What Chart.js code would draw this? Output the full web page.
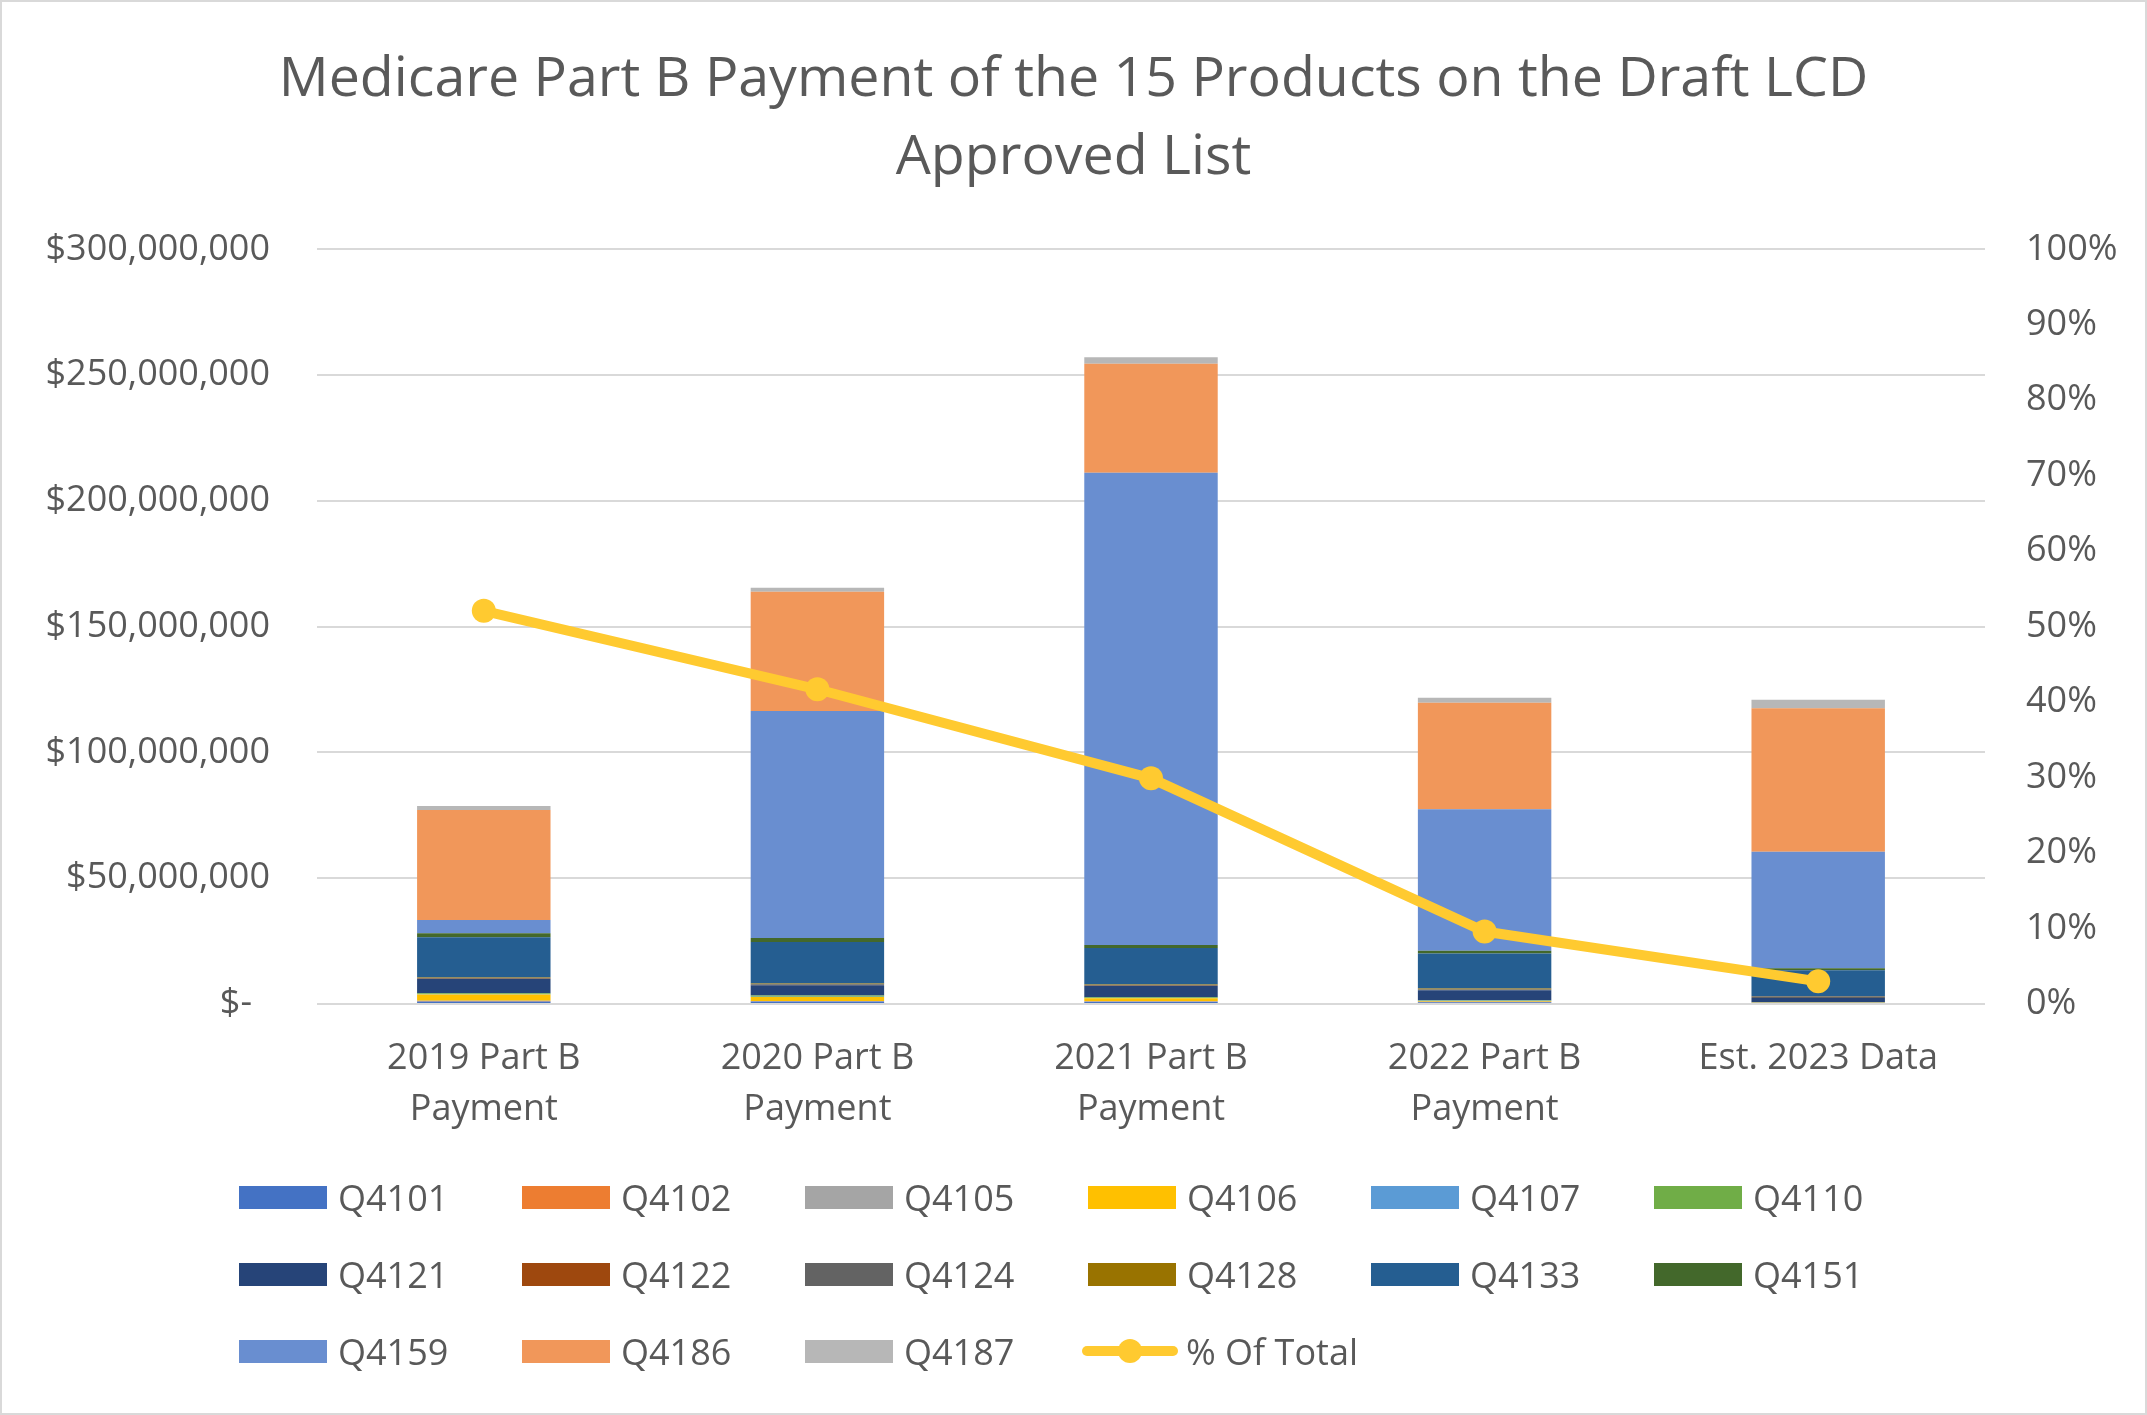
<!DOCTYPE html>
<html>
<head>
<meta charset="utf-8">
<script src="https://cdn.jsdelivr.net/npm/chart.js@4.4.1/dist/chart.umd.min.js"></script>
<style>
  body { margin: 0; background: #fff; }
  #wrap { position: relative; width: 2147px; height: 1415px; overflow: hidden; }
  #frame { position: absolute; left: 0; top: 0; width: 2143px; height: 1411px; border: 2px solid #d9d9d9; pointer-events: none; }
  #legend { position: absolute; left: 0; top: 0; width: 2147px; height: 1415px; pointer-events: none;
            font-family: 'Open Sans', sans-serif; font-size: 36px; color: #595959; }
  .item { position: absolute; height: 50px; display: flex; align-items: center; white-space: nowrap; }
  .box { width: 88px; height: 23px; margin-right: 11px; }
  .ln { position: relative; width: 96px; height: 10px; border-radius: 5px; margin-right: 8px; }
  .ln span { position: absolute; left: 36px; top: -7px; width: 24px; height: 24px; border-radius: 12px; }
</style>
</head>
<body>
<div id="wrap">
  <canvas id="lineChart" width="2147" height="1415"></canvas>
  <div id="legend"></div>
  <div id="frame"></div>
</div>
<script>
// categories
var years = [['2019 Part B', 'Payment'], ['2020 Part B', 'Payment'], ['2021 Part B', 'Payment'], ['2022 Part B', 'Payment'], 'Est. 2023 Data'];

// payments in millions of dollars
var q4101 = [1.0, 1.0, 0.9, 0.7, 0.4];
var q4102 = [0.2, 0.1, 0.1, 0.1, 0.0];
var q4105 = [0.1, 0.1, 0.1, 0.1, 0.1];
var q4106 = [2.5, 1.6, 1.2, 0.3, 0.1];
var q4107 = [0.1, 0.1, 0.1, 0.1, 0.0];
var q4110 = [0.4, 0.5, 0.3, 0.2, 0.1];
var q4121 = [5.6, 4.1, 4.5, 4.0, 1.7];
var q4122 = [0.1, 0.1, 0.1, 0.0, 0.0];
var q4124 = [0.3, 0.3, 0.3, 0.3, 0.7];
var q4128 = [0.2, 0.2, 0.2, 0.4, 0.1];
var q4133 = [16.0, 16.5, 14.5, 13.9, 10.2];
var q4151 = [1.6, 1.6, 1.2, 1.1, 0.8];
var q4159 = [5.3, 90.3, 187.7, 56.2, 46.3];
var q4186 = [43.7, 47.4, 43.3, 42.3, 57.1];
var q4187 = [1.6, 1.6, 2.6, 2.0, 3.3];

// % of total (right axis)
var pctTotal = [52.1, 41.7, 29.9, 9.6, 3.0];

var leftTicks = [0, 50, 100, 150, 200, 250, 300];
var rightTicks = [0, 10, 20, 30, 40, 50, 60, 70, 80, 90, 100];

var codes  = ['Q4101', 'Q4102', 'Q4105', 'Q4106', 'Q4107', 'Q4110', 'Q4121', 'Q4122', 'Q4124', 'Q4128', 'Q4133', 'Q4151', 'Q4159', 'Q4186', 'Q4187'];
var series = [q4101, q4102, q4105, q4106, q4107, q4110, q4121, q4122, q4124, q4128, q4133, q4151, q4159, q4186, q4187];
var colores = ['#4472c4', '#ed7d31', '#a5a5a5', '#ffc000', '#5b9bd5', '#70ad47', '#264478', '#9e480e', '#636363', '#997300', '#255e91', '#43682b', '#698ed0', '#f1975a', '#b7b7b7'];
var lineColor = '#ffca30';

function dinero(v) {
  if (v === 0) return '$-\u2002';
  return '$' + Math.round(v * 1000000).toLocaleString('en-US');
}

function graficar() {
  Chart.defaults.font.family = "'Open Sans', sans-serif";
  Chart.defaults.color = '#595959';

  var datasets = [{
    type: 'line',
    label: '% Of Total',
    data: pctTotal,
    yAxisID: 'y1',
    borderColor: lineColor,
    backgroundColor: lineColor,
    borderWidth: 10,
    pointRadius: 12,
    pointHoverRadius: 12,
    pointBorderWidth: 0,
    order: 0
  }];
  for (var i = 0; i < codes.length; i++) {
    datasets.push({
      type: 'bar',
      label: codes[i],
      data: series[i],
      backgroundColor: colores[i],
      borderWidth: 0,
      stack: 'pago',
      yAxisID: 'y',
      categoryPercentage: 1,
      barPercentage: 0.4,
      order: 1
    });
  }

  var ctx = document.getElementById('lineChart').getContext('2d');
  var chart = new Chart(ctx, {
    data: { labels: years, datasets: datasets },
    options: {
      responsive: false,
      animation: false,
      devicePixelRatio: 1,
      layout: { padding: { left: 0, right: 0, top: 0, bottom: 281 } },
      plugins: {
        legend: { display: false },
        tooltip: { enabled: false },
        title: {
          display: true,
          text: ['Medicare Part B Payment of the 15 Products on the Draft LCD', 'Approved List'],
          color: '#595959',
          font: { size: 55.5, weight: 'normal', lineHeight: 1.39 },
          padding: { top: 42, bottom: 53 }
        }
      },
      scales: {
        x: {
          stacked: true,
          grid: { display: false, drawTicks: false },
          border: { display: false },
          ticks: { font: { size: 36, lineHeight: 1.4 }, color: '#595959', maxRotation: 0, autoSkip: false, padding: 30 },
          afterFit: function (s) { s.height = 130; }
        },
        y: {
          stacked: true,
          position: 'left',
          min: 0,
          max: 300,
          afterBuildTicks: function (s) { s.ticks = leftTicks.map(function (v) { return { value: v }; }); },
          grid: { color: '#d9d9d9', lineWidth: 2, drawTicks: false },
          border: { display: false },
          ticks: { font: { size: 36 }, color: '#595959', padding: 47, callback: function (v) { return dinero(v); } },
          afterFit: function (s) { s.width = 317; }
        },
        y1: {
          position: 'right',
          min: 0,
          max: 100,
          afterBuildTicks: function (s) { s.ticks = rightTicks.map(function (v) { return { value: v }; }); },
          grid: { display: false, drawTicks: false },
          border: { display: false },
          ticks: { font: { size: 36 }, color: '#595959', padding: 41, callback: function (v) { return v + '%'; } },
          afterFit: function (s) { s.width = 162; }
        }
      }
    }
  });
  leyenda(chart);
}

function leyenda(chart) {
  var cont = document.getElementById('legend');
  var orden = chart.data.datasets.slice(1).concat([chart.data.datasets[0]]);
  for (var i = 0; i < orden.length; i++) {
    var ds = orden[i];
    var col = i % 6, row = Math.floor(i / 6);
    var it = document.createElement('div');
    it.className = 'item';
    it.style.left = (239 + col * 283) + 'px';
    it.style.top = (1172 + row * 77) + 'px';
    var mark = document.createElement('div');
    if (ds.type === 'line') {
      mark.className = 'ln';
      mark.style.background = ds.borderColor;
      var dot = document.createElement('span');
      dot.style.background = ds.borderColor;
      mark.appendChild(dot);
      it.style.left = (239 + col * 283 - 6) + 'px';
    } else {
      mark.className = 'box';
      mark.style.background = ds.backgroundColor;
    }
    it.appendChild(mark);
    it.appendChild(document.createTextNode(ds.label));
    cont.appendChild(it);
  }
}

graficar();
</script>
</body>
</html>
